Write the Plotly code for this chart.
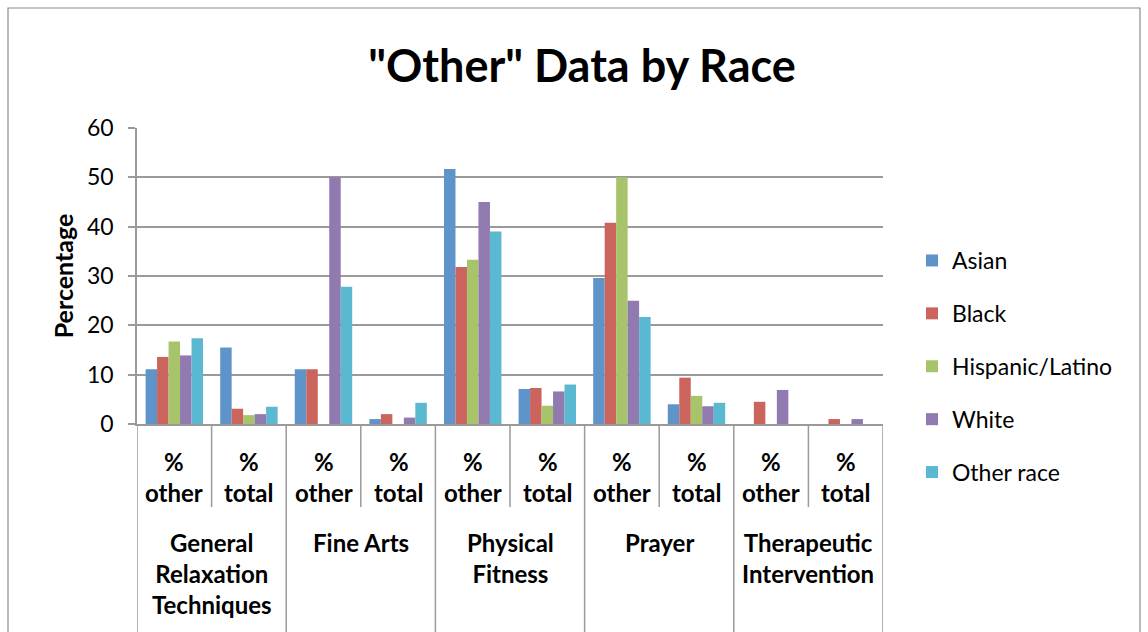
import plotly.graph_objects as go

# Activity groups and the two measures shown under each
groups = ["General Relaxation Techniques", "Fine Arts", "Physical Fitness",
          "Prayer", "Therapeutic Intervention"]
group_labels = ["General<br>Relaxation<br>Techniques", "Fine Arts", "Physical<br>Fitness",
                "Prayer", "Therapeutic<br>Intervention"]
measures = ["% other", "% total"]
measure_labels = ["%<br>other", "%<br>total"]

# Percentages per race, ordered group by group: (% other, % total)
asian = [11.1, 15.5, 11.1, 1.0, 51.7, 7.1, 29.6, 4.0, 0, 0]
black = [13.6, 3.1, 11.1, 2.0, 31.8, 7.3, 40.8, 9.4, 4.5, 1.0]
hispanic = [16.7, 1.8, 0, 0, 33.3, 3.7, 50.0, 5.7, 0, 0]
white = [13.9, 2.0, 50.0, 1.3, 45.0, 6.6, 25.0, 3.6, 6.9, 1.0]
other_race = [17.4, 3.5, 27.8, 4.3, 39.0, 8.0, 21.7, 4.3, 0, 0]

series = [
    ("Asian", asian, "#5F94CA"),
    ("Black", black, "#CC645E"),
    ("Hispanic/Latino", hispanic, "#A8C46B"),
    ("White", white, "#917AB0"),
    ("Other race", other_race, "#5AB8D0"),
]

# one category slot per (group, measure) pair
keys = [f"{g} | {m}" for g in groups for m in measures]

FONT = "Lato"
GRID = "#9a9a9a"

# pixel layout of the plot area
W, H = 1148, 632
L, R, T, B = 137, 883, 128, 424


def py(p):
    """Convert a page pixel row into paper y."""
    return (B - p) / (B - T)


def px(p):
    """Convert a page pixel column into paper x."""
    return (p - L) / (R - L)


fig = go.Figure()
for name, vals, color in series:
    fig.add_trace(go.Bar(
        x=keys, y=vals, name=name, legendgroup=name,
        marker=dict(color=color, line=dict(width=0)),
    ))

annotations = []
shapes = []

# measure labels under each slot
for i, k in enumerate(keys):
    annotations.append(dict(
        x=i, xref="x", y=py(477), yref="paper", yanchor="middle",
        text=measure_labels[i % 2], showarrow=False,
        font=dict(family=FONT, size=24, color="black", weight="bold"),
        align="center",
    ))

# group labels
for gi, lab in enumerate(group_labels):
    annotations.append(dict(
        x=gi * 2 + 0.5, xref="x", y=py(526), yref="paper", yanchor="top",
        text=lab, showarrow=False,
        font=dict(family=FONT, size=24, color="black", weight="bold"),
        align="center",
    ))

# dividers: short ones between measures, long ones between groups
for b in range(len(keys) + 1):
    xpos = b - 0.5
    bottom = py(640) if b % 2 == 0 else py(507)
    shapes.append(dict(
        type="line", xref="x", yref="paper", x0=xpos, x1=xpos,
        y0=0, y1=bottom, line=dict(color=GRID, width=1.5),
    ))

# chart frame
shapes.append(dict(
    type="rect", xref="paper", yref="paper",
    x0=px(8), x1=px(1140), y0=py(8), y1=py(660),
    line=dict(color="#8c8c8c", width=1.2), fillcolor="rgba(0,0,0,0)",
    layer="below",
))

fig.update_layout(
    width=W, height=H,
    margin=dict(l=L, r=W - R, t=T, b=H - B, pad=0),
    paper_bgcolor="white", plot_bgcolor="white",
    font=dict(family=FONT, size=22, color="black"),
    title=dict(
        text='"Other" Data by Race', xref="container", x=582 / W,
        xanchor="center", yref="container", y=1 - 66 / H, yanchor="middle",
        font=dict(family=FONT, size=45, color="black", weight="bold"),
    ),
    barmode="group", bargap=0.23, bargroupgap=0,
    showlegend=True,
    legend=dict(
        xref="container", yref="container", x=912 / W, y=1 - 239 / H,
        xanchor="left", yanchor="top", tracegroupgap=20,
        font=dict(family=FONT, size=23, color="black"),
        bgcolor="rgba(0,0,0,0)", itemwidth=30,
    ),
    xaxis=dict(
        type="category", categoryorder="array", categoryarray=keys,
        range=[-0.5, len(keys) - 0.5], showticklabels=False, ticks="",
        showgrid=False, showline=True, linecolor=GRID, linewidth=1.5,
        zeroline=False, fixedrange=True,
    ),
    yaxis=dict(
        range=[0, 60], dtick=10, tick0=0,
        showgrid=True, gridcolor=GRID, gridwidth=1.5,
        showline=True, linecolor=GRID, linewidth=1.5,
        ticks="outside", ticklen=7, tickcolor=GRID, tickwidth=1.5,
        ticklabelstandoff=10,
        tickfont=dict(family=FONT, size=23, color="black"),
        zeroline=False,
        title=dict(text="Percentage", standoff=6,
                   font=dict(family=FONT, size=25, color="black", weight="bold")),
    ),
    annotations=annotations,
    shapes=shapes,
)

fig.write_html("out.html")
